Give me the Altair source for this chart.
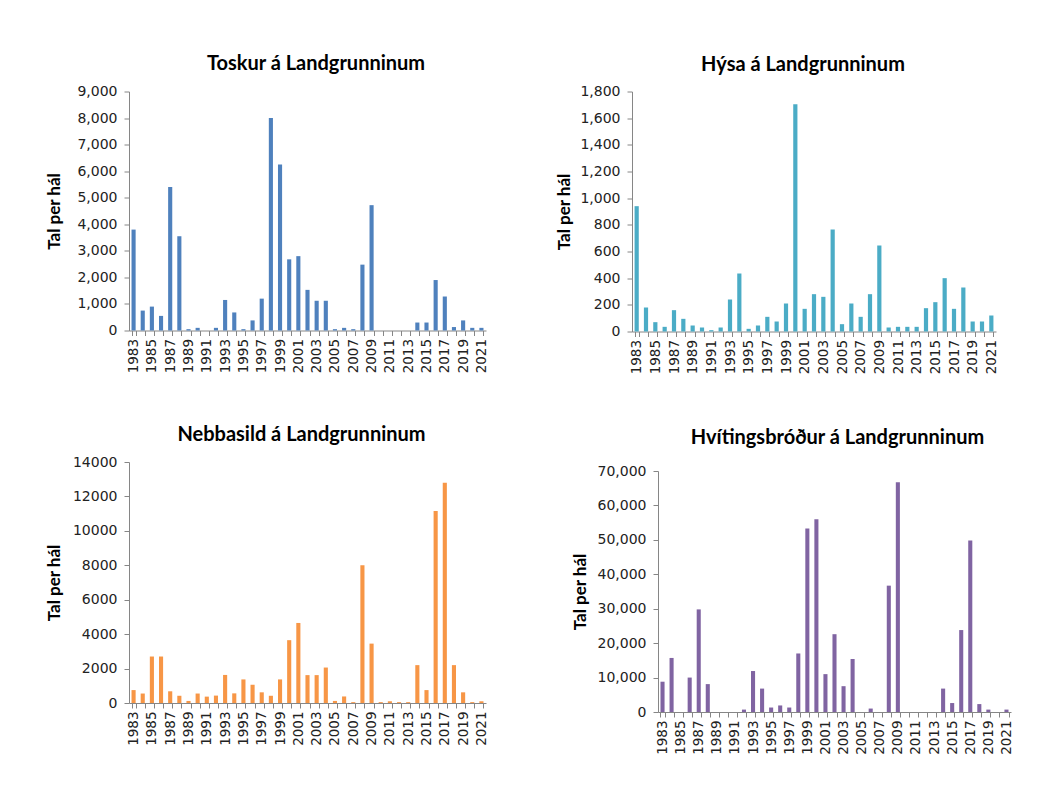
import altair as alt
import pandas as pd

years = list(range(1983, 2022))

toskur = [3800, 750, 900, 550, 5400, 3550, 50, 100, 0, 100,
          1150, 680, 50, 380, 1200, 8000, 6250, 2680, 2800, 1530,
          1120, 1120, 50, 100, 50, 2480, 4720, 0, 0, 0,
          0, 300, 300, 1900, 1280, 130, 380, 100, 100]

hysa = [940, 180, 70, 35, 160, 95, 45, 30, 10, 30,
        240, 435, 20, 45, 110, 75, 210, 1705, 170, 280,
        260, 765, 55, 210, 110, 280, 645, 30, 35, 35,
        35, 175, 220, 400, 170, 330, 75, 75, 120]

nebbasild = [750, 550, 2700, 2700, 680, 420, 120, 550, 370, 430,
             1630, 560, 1370, 1060, 620, 420, 1370, 3650, 4650, 1620,
             1620, 2060, 120, 380, 50, 8000, 3450, 50, 100, 50,
             50, 2200, 750, 11150, 12800, 2200, 620, 50, 100]

hvitingsbrodur = [8800, 15700, 0, 10000, 29800, 8100, 0, 0, 0, 700,
                  11900, 6800, 1300, 1900, 1300, 17000, 53300, 56000, 11000, 22600,
                  7500, 15400, 0, 1000, 0, 36700, 66700, 0, 0, 0,
                  0, 6800, 2600, 23800, 49800, 2300, 700, 0, 700]

titles = ["Toskur á Landgrunninum", "Hýsa á Landgrunninum",
          "Nebbasild á Landgrunninum", "Hvítingsbróður á Landgrunninum"]
y_title = "Tal per hál"

LABEL_FONT = "DejaVu Sans"
TITLE_FONT = "Lato"
AXIS_COLOR = "#868686"
TEXT_COLOR = "#222222"


def panel(values, title, color, ymax, ystep, fmt, w, h, title_dx, title_offset,
          ytitle_pad, top_gap=0):
    df = pd.DataFrame({"year": years, "value": values})
    yscale = alt.Scale(domain=[0, ymax], nice=False)
    if top_gap:
        yscale = alt.Scale(domain=[0, ymax], nice=False, range=[h, top_gap])
    return (
        alt.Chart(
            df,
            title=alt.TitleParams(
                title, dx=title_dx, offset=title_offset, anchor="middle",
                font=TITLE_FONT, fontSize=20, fontWeight="bold", color="black",
            ),
        )
        .mark_bar(color=color)
        .encode(
            x=alt.X(
                "year:O",
                scale=alt.Scale(paddingInner=0.55, paddingOuter=0.275),
                axis=alt.Axis(
                    title=None, labelAngle=-90, labelAlign="right", labelBaseline="middle",
                    labelExpr="datum.value % 2 == 1 ? datum.label : ''",
                    tickBand="extent", tickSize=5, labelPadding=3,
                    labelFont=LABEL_FONT, labelFontSize=13.5, labelColor=TEXT_COLOR,
                    domainColor=AXIS_COLOR, tickColor=AXIS_COLOR,
                    labelOverlap=False,
                ),
            ),
            y=alt.Y(
                "value:Q",
                scale=yscale,
                axis=alt.Axis(
                    title=y_title, values=list(range(0, ymax + 1, ystep)), format=fmt,
                    grid=False, tickSize=5, labelPadding=7, titlePadding=ytitle_pad,
                    labelFont=LABEL_FONT, labelFontSize=14, labelColor=TEXT_COLOR,
                    titleFont=TITLE_FONT, titleFontSize=17, titleFontWeight="bold",
                    titleColor="black",
                    domainColor=AXIS_COLOR, tickColor=AXIS_COLOR,
                ),
            ),
        )
        .properties(width=w, height=h)
    )


p1 = panel(toskur, titles[0], "#4F81BD", 9000, 1000, ",d", 357, 239, 8.5, 11, 13)
p2 = panel(hysa, titles[1], "#4BACC6", 1800, 200, ",d", 364, 240, -11, 9.5, 6)
p3 = panel(nebbasild, titles[2], "#F79646", 14000, 2000, "d", 357, 241, -6, 10.5, 9)
p4 = panel(hvitingsbrodur, titles[3], "#8064A2", 70000, 10000, ",d", 353, 250, 3, 14.5, 7.5,
           top_gap=9)

chart = (
    alt.vconcat(
        alt.hconcat(p1, p2, spacing=146, bounds="flush"),
        alt.hconcat(p3, p4, spacing=172, bounds="flush"),
        spacing=370.5,
        bounds="flush",
    )
    .properties(padding={"left": 37, "top": 45.5, "right": 5, "bottom": 5}, background="white")
    .configure_view(stroke=None)
)

chart.save("out.html", embed_options={"renderer": "svg", "actions": False})
